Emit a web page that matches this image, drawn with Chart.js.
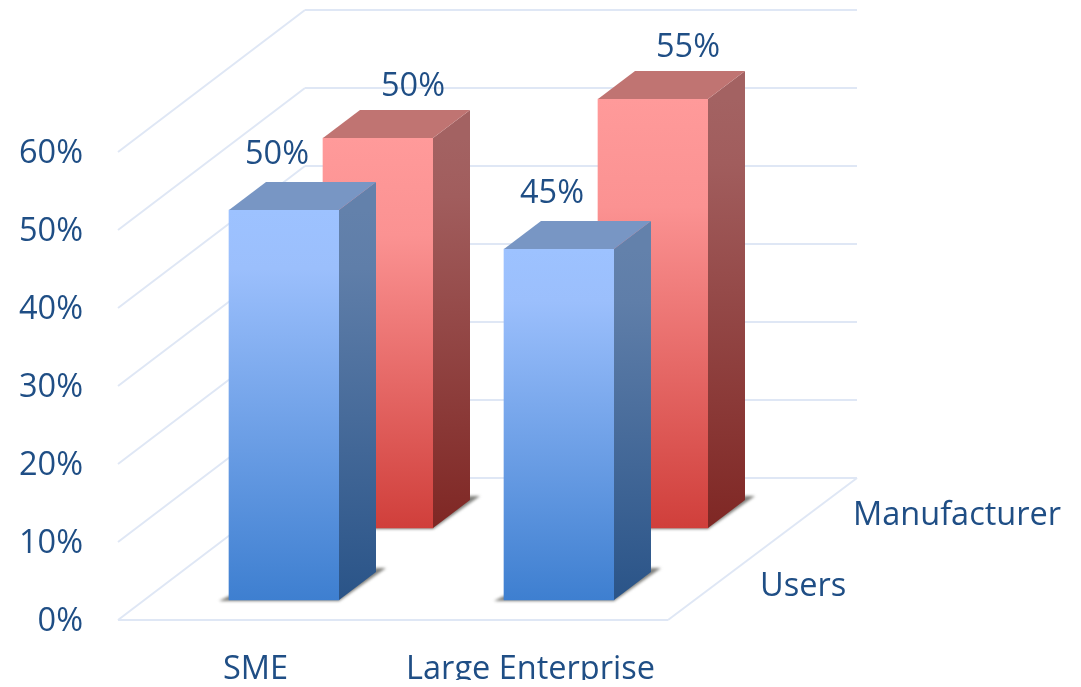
<!DOCTYPE html>
<html>
<head>
<meta charset="utf-8">
<title>Users and manufacturers by company size</title>
<script src="https://cdn.jsdelivr.net/npm/chart.js@4"></script>
<style>
    html, body { margin: 0; padding: 0; background: #fff; }
    canvas { display: block; }
</style>
</head>
<body>
<canvas id="barChart" width="1081" height="687"></canvas>
<script>
var categories = ['SME', 'Large Enterprise'];
var seriesNames = ['Users', 'Manufacturer'];
var usersValues = [50, 45];
var manufacturerValues = [50, 55];
var tickValues = [0, 10, 20, 30, 40, 50, 60];

var textColor = '#1f4e85';
var gridColor = '#dfe7f5';
var fontFamily = '"Open Sans", sans-serif';
var fontSize = 32.5;

// offset of the bars' side and top faces
var barDepth = { x: 37, y: -28 };
// offset of the back wall and floor from the front edge
var wallDepth = { x: 187, y: -142 };
var floorRight = 189;

var blueFaces = {
    front: [[0, '#9dc2ff'], [0.15, '#9bbffc'], [1, '#3e7fd0']],
    side: [[0, '#6381ab'], [0.15, '#5f7ea9'], [1, '#2a5488']],
    top: '#7896c4'
};
var redFaces = {
    front: [[0, '#ff9a9a'], [0.25, '#fb9292'], [1, '#d03f3b']],
    side: [[0, '#a36262'], [0.15, '#a15d5d'], [1, '#7f2724']],
    top: '#c07472'
};

function verticalGradient(ctx, top, bottom, stops) {
    var g = ctx.createLinearGradient(0, top, 0, bottom);
    stops.forEach(function (s) { g.addColorStop(s[0], s[1]); });
    return g;
}

function frontGradient(context) {
    var chart = context.chart;
    var faces = context.dataset.faces;
    // the scale has no pixel range until the first layout is done
    if (context.type !== 'data' || !chart.chartArea) {
        return faces.front[0][1];
    }
    var top = chart.scales.y.getPixelForValue(context.raw);
    var base = chart.scales.y.getPixelForValue(0);
    return verticalGradient(chart.ctx, top, base, faces.front);
}

function polygon(ctx, points, fill) {
    ctx.beginPath();
    points.forEach(function (p, i) {
        if (i === 0) { ctx.moveTo(p[0], p[1]); } else { ctx.lineTo(p[0], p[1]); }
    });
    ctx.closePath();
    ctx.fillStyle = fill;
    ctx.fill();
}

function gridLine(ctx, x1, y1, x2, y2) {
    ctx.beginPath();
    ctx.moveTo(x1, y1);
    ctx.lineTo(x2, y2);
    ctx.stroke();
}

// walls and floor, built from the value scale
var wallsPlugin = {
    id: 'walls',
    beforeDatasetsDraw: function (chart) {
        var ctx = chart.ctx;
        var area = chart.chartArea;
        var yScale = chart.scales.y;
        var backLeft = area.left + wallDepth.x;
        var backRight = area.right + floorRight;
        ctx.save();
        ctx.strokeStyle = gridColor;
        ctx.lineWidth = 2;
        tickValues.forEach(function (v) {
            var y = yScale.getPixelForValue(v);
            gridLine(ctx, area.left, y, backLeft, y + wallDepth.y);
            gridLine(ctx, backLeft, y + wallDepth.y, backRight, y + wallDepth.y);
        });
        gridLine(ctx, area.left, area.bottom, area.right, area.bottom);
        gridLine(ctx, area.right, area.bottom, backRight, area.bottom + wallDepth.y);
        ctx.restore();
    }
};

// pushes each series back on the floor and adds the side, top and shadow
var depthPlugin = {
    id: 'depth',
    beforeDatasetDraw: function (chart, args) {
        var ctx = chart.ctx;
        var dataset = chart.data.datasets[args.index];
        ctx.save();
        ctx.translate(dataset.shift.x, dataset.shift.y);
        args.meta.data.forEach(function (bar) {
            var left = bar.x - bar.width / 2;
            var right = bar.x + bar.width / 2;
            ctx.save();
            ctx.filter = 'blur(1.5px)';
            polygon(ctx, [
                [left - 10, bar.base + 1],
                [right, bar.base + 1],
                [right + barDepth.x + 10, bar.base + barDepth.y - 4],
                [right + barDepth.x, bar.base + barDepth.y - 4],
                [left, bar.base - 4]
            ], 'rgba(105, 105, 100, 0.85)');
            ctx.restore();
        });
    },
    afterDatasetDraw: function (chart, args) {
        var ctx = chart.ctx;
        var dataset = chart.data.datasets[args.index];
        args.meta.data.forEach(function (bar) {
            var left = bar.x - bar.width / 2;
            var right = bar.x + bar.width / 2;
            var dx = barDepth.x;
            var dy = barDepth.y;
            polygon(ctx, [
                [right, bar.y], [right + dx, bar.y + dy],
                [right + dx, bar.base + dy], [right, bar.base]
            ], verticalGradient(ctx, bar.y, bar.base, dataset.faces.side));
            polygon(ctx, [
                [left, bar.y], [left + dx, bar.y + dy],
                [right + dx, bar.y + dy], [right, bar.y]
            ], dataset.faces.top);
        });
        ctx.restore();
    }
};

// value labels above the bars and series names next to the floor
var labelsPlugin = {
    id: 'labels',
    afterDatasetsDraw: function (chart) {
        var ctx = chart.ctx;
        var area = chart.chartArea;
        ctx.save();
        ctx.fillStyle = textColor;
        ctx.font = fontSize + 'px ' + fontFamily;
        ctx.textBaseline = 'middle';
        chart.data.datasets.forEach(function (dataset, i) {
            ctx.textAlign = 'center';
            chart.getDatasetMeta(i).data.forEach(function (bar, j) {
                ctx.fillText(dataset.data[j] + '%',
                    bar.x + dataset.shift.x + dataset.labelShift.x,
                    bar.y + dataset.shift.y + dataset.labelShift.y);
            });
            ctx.textAlign = 'left';
            ctx.fillText(dataset.label, area.right + dataset.namePos.x, area.bottom + dataset.namePos.y);
        });
        ctx.restore();
    }
};

var barChart = new Chart(document.getElementById('barChart'), {
    type: 'bar',
    data: {
        labels: categories,
        datasets: [{
            label: seriesNames[0],
            data: usersValues,
            faces: blueFaces,
            shift: { x: 28.5, y: -20 },
            labelShift: { x: -7, y: -55 },
            namePos: { x: 92, y: -33 },
            backgroundColor: frontGradient,
            barThickness: 110,
            clip: false
        }, {
            label: seriesNames[1],
            data: manufacturerValues,
            faces: redFaces,
            shift: { x: 122.5, y: -92 },
            labelShift: { x: 35, y: -51 },
            namePos: { x: 185, y: -104 },
            backgroundColor: frontGradient,
            barThickness: 110,
            clip: false
        }]
    },
    options: {
        responsive: false,
        animation: false,
        layout: { padding: { top: 152, right: 413, bottom: 7, left: 0 } },
        plugins: {
            legend: { display: false },
            tooltip: { enabled: false }
        },
        datasets: { bar: { grouped: false } },
        scales: {
            x: {
                grid: { display: false, drawTicks: false },
                border: { display: false },
                afterFit: function (scale) { scale.height = 60; },
                ticks: {
                    color: textColor,
                    padding: 30,
                    maxRotation: 0,
                    font: { family: fontFamily, size: fontSize }
                }
            },
            y: {
                min: 0,
                max: 60,
                grid: { display: false, drawTicks: false },
                border: { display: false },
                afterFit: function (scale) { scale.width = 118; },
                afterBuildTicks: function (scale) {
                    scale.ticks = tickValues.map(function (v) { return { value: v }; });
                },
                ticks: {
                    color: textColor,
                    padding: 35,
                    labelOffset: 2,
                    font: { family: fontFamily, size: fontSize },
                    callback: function (value) { return value + '%'; }
                }
            }
        }
    },
    plugins: [wallsPlugin, depthPlugin, labelsPlugin]
});
</script>
</body>
</html>
